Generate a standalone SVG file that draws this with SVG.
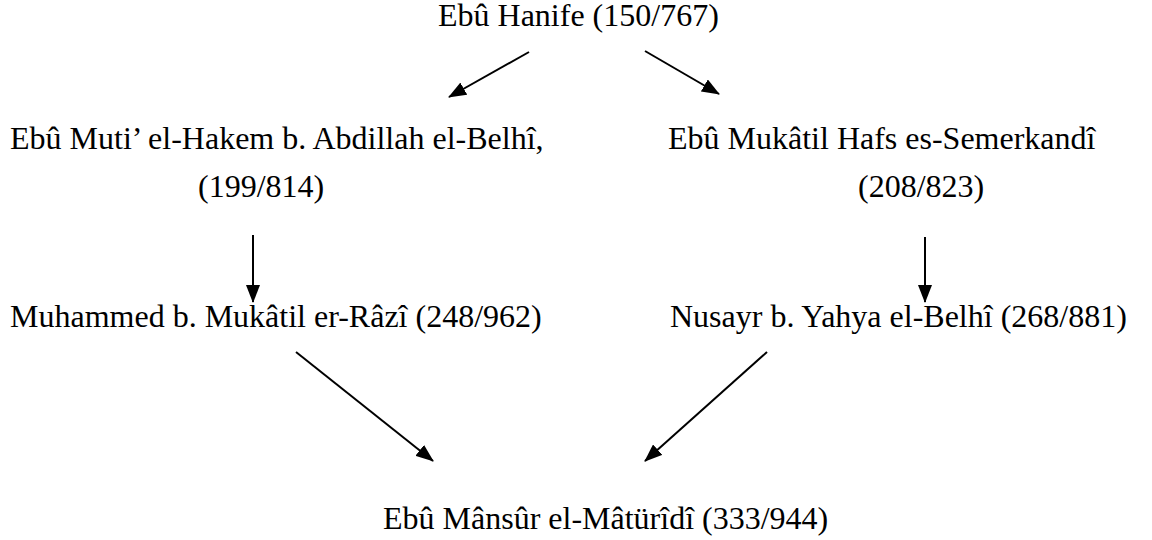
<svg xmlns="http://www.w3.org/2000/svg" width="1152" height="540" viewBox="0 0 1152 540">
  <defs>
    <style>
      .t { font-family: "Liberation Serif", "Times New Roman", serif; font-size: 32px; fill: #000; }
      .c { stroke: #000; stroke-width: 2; fill: none; marker-end: url(#ah); }
    </style>
    <marker id="ah" markerUnits="userSpaceOnUse" markerWidth="18" markerHeight="14" refX="17" refY="7" orient="auto">
      <path d="M0,0 L18,7 L0,14 z" fill="#000"/>
    </marker>
  </defs>
  <rect width="1152" height="540" fill="#fff"/>
  <g id="n-ebu-hanife"><text class="t" x="438" y="26">Ebû Hanife (150/767)</text></g>
  <g id="n-ebu-muti"><text class="t" x="10" y="149">Ebû Muti’ el-Hakem b. Abdillah el-Belhî,</text><text class="t" x="198" y="197">(199/814)</text></g>
  <g id="n-ebu-mukatil"><text class="t" x="668" y="149">Ebû Mukâtil Hafs es-Semerkandî</text><text class="t" x="858" y="197">(208/823)</text></g>
  <g id="n-muhammed"><text class="t" x="10" y="327">Muhammed b. Mukâtil er-Râzî (248/962)</text></g>
  <g id="n-nusayr"><text class="t" x="670" y="327">Nusayr b. Yahya el-Belhî (268/881)</text></g>
  <g id="n-maturidi"><text class="t" x="383" y="529">Ebû Mânsûr el-Mâtürîdî (333/944)</text></g>
  <g id="connectors">
    <line class="c" x1="529" y1="52" x2="449" y2="97"/>
    <line class="c" x1="645" y1="51" x2="719" y2="94"/>
    <line class="c" x1="253" y1="235" x2="253" y2="302"/>
    <line class="c" x1="925" y1="237" x2="925" y2="302"/>
    <line class="c" x1="296" y1="352" x2="433" y2="461"/>
    <line class="c" x1="767" y1="352" x2="645" y2="461"/>
  </g>
</svg>
